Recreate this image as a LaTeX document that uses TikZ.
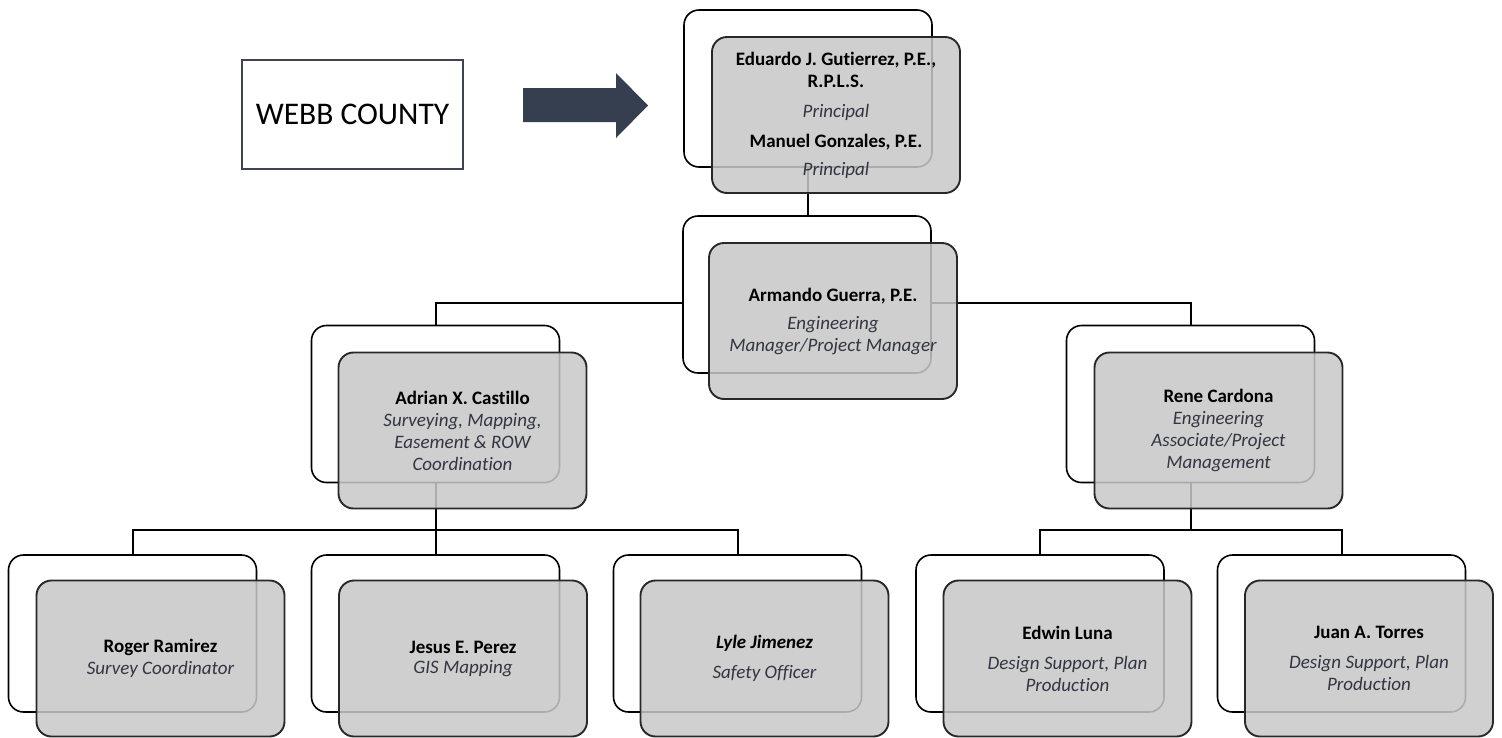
\documentclass[tikz,border=0pt]{standalone}
\usepackage{fontspec}
\setmainfont{Carlito}[Ligatures=NoCommon]
\definecolor{frontfill}{RGB}{200,200,200}
\definecolor{frontline}{RGB}{40,40,40}
\definecolor{titlecol}{RGB}{50,53,66}
\definecolor{arrowcol}{RGB}{53,63,79}
\definecolor{webbline}{RGB}{64,68,80}
\tikzset{
  backbox/.style={draw=black, line width=1.6pt, rounded corners=15pt, fill=white,
    minimum width=248pt, minimum height=157pt, inner sep=0pt},
  frontbox/.style={draw=frontline, line width=1.9pt, rounded corners=15pt,
    fill=frontfill, fill opacity=0.86, text opacity=1,
    minimum width=248pt, minimum height=156pt, inner sep=0pt, align=center,
    font=\fontsize{19}{22}\selectfont},
  conn/.style={draw=black, line width=2pt},
  webbbox/.style={draw=webbline, line width=1.5pt, minimum width=221pt, minimum height=109pt,
    inner sep=0pt, font=\fontsize{31.5}{36}\selectfont},
}
\newcommand{\ttl}[1]{{\itshape\color{titlecol}#1}}
\begin{document}
\begin{tikzpicture}[x=1pt,y=-1pt]
\useasboundingbox (0,0) rectangle (1502,737);
% back box coordinates (centers)
\coordinate (cedu) at (808,88.5);
\coordinate (carm) at (807,294.5);
\coordinate (cadr) at (435.5,404);
\coordinate (cren) at (1190.5,404);
\coordinate (hl) at (0,530);
% invisible anchors for the back boxes
\node[backbox, draw=none, fill=none] (eduB0) at (cedu) {};
\node[backbox, draw=none, fill=none] (armB0) at (carm) {};
\node[backbox, draw=none, fill=none] (adrB0) at (cadr) {};
\node[backbox, draw=none, fill=none] (renB0) at (cren) {};
\node[backbox, draw=none, fill=none] (rogB0) at (132.5,633.5) {};
\node[backbox, draw=none, fill=none] (jesB0) at (435.5,633.5) {};
\node[backbox, draw=none, fill=none] (lylB0) at (737.5,633.5) {};
\node[backbox, draw=none, fill=none] (edwB0) at (1040,633.5) {};
\node[backbox, draw=none, fill=none] (juaB0) at (1341.5,633.5) {};

% connectors
\draw[conn] (eduB0.south) -- (eduB0.south |- armB0.north);
\draw[conn] ([yshift=-8pt]armB0.west) -| (adrB0.north);
\draw[conn] ([yshift=-8pt]armB0.east) -| (renB0.north);
\draw[conn] (adrB0.south) -- (adrB0.south |- hl);
\draw[conn] (rogB0.north) -- (rogB0.north |- hl) -| (lylB0.north);
\draw[conn] (jesB0.north) -- (jesB0.north |- hl);
\draw[conn] (renB0.south) -- (renB0.south |- hl);
\draw[conn] (edwB0.north) -- (edwB0.north |- hl) -| (juaB0.north);

% back boxes
\foreach \n in {eduB0,armB0,adrB0,renB0,rogB0,jesB0,lylB0,edwB0,juaB0}{
  \node[backbox] at (\n) {};
}

% front boxes
\node[frontbox] (edu) at ([shift={(28,26.5)}]cedu) {\textbf{Eduardo J. Gutierrez, P.E.,}\\\textbf{R.P.L.S.}\\[8pt]\ttl{Principal}\\[8pt]\textbf{Manuel Gonzales, P.E.}\\[6pt]\ttl{Principal}};
\node[frontbox] (arm) at ([shift={(26,26.5)}]carm) {\textbf{Armando Guerra, P.E.}\\[6pt]\ttl{Engineering}\\\ttl{Manager/Project Manager}};
\node[frontbox] (adr) at ([shift={(27,26.5)}]cadr) {\textbf{Adrian X. Castillo}\\\ttl{Surveying, Mapping,}\\\ttl{Easement \& ROW}\\\ttl{Coordination}};
\node[frontbox] (ren) at ([shift={(28,26.5)}]cren) {\textbf{Rene Cardona}\\\ttl{Engineering}\\\ttl{Associate/Project}\\\ttl{Management}};
\node[frontbox] (rog) at (160.5,658.5) {\textbf{Roger Ramirez}\\\ttl{Survey Coordinator}};
\node[frontbox] (jes) at (463,658.5) {\textbf{Jesus E. Perez}\\[-2pt]\ttl{GIS Mapping}};
\node[frontbox] (lyl) at (764.5,658.5) {\textbf{\itshape Lyle Jimenez}\\[8pt]\ttl{Safety Officer}};
\node[frontbox] (edw) at (1067.5,658.5) {\textbf{Edwin Luna}\\[8pt]\ttl{Design Support, Plan}\\\ttl{Production}};
\node[frontbox] (jua) at (1369,658.5) {\textbf{Juan A. Torres}\\[8pt]\ttl{Design Support, Plan}\\\ttl{Production}};

% WEBB COUNTY
\node[webbbox] (webb) at (352.5,114.5) {WEBB COUNTY};
% arrow
\fill[arrowcol] (523,88) -- (616,88) -- (616,73) -- (648,105.5) -- (616,138) -- (616,122) -- (523,122) -- cycle;
\end{tikzpicture}
\end{document}
